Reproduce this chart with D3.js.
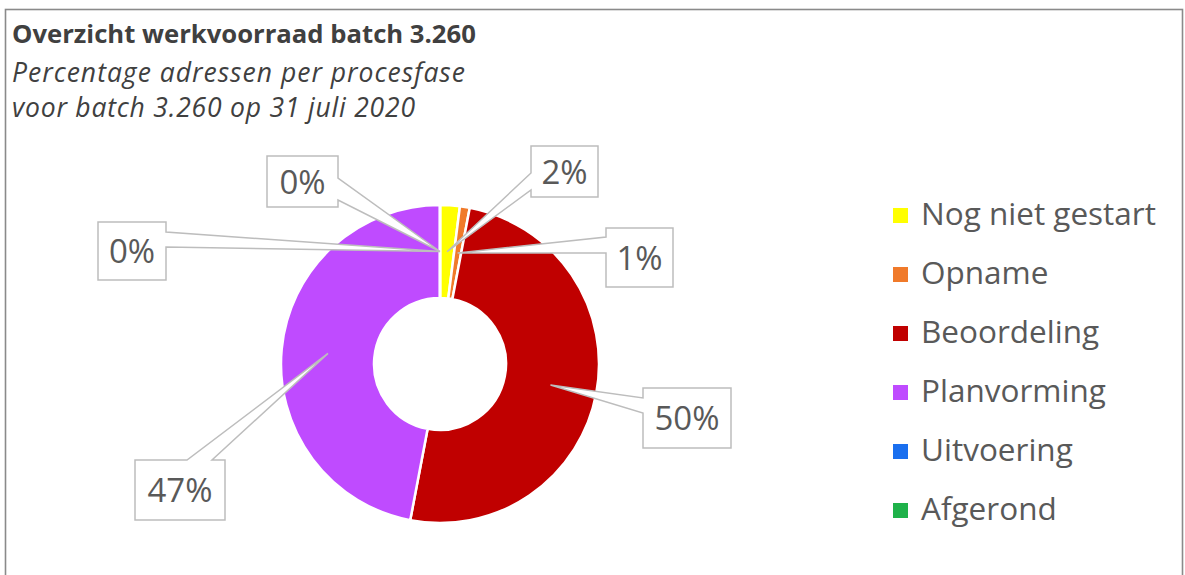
<!DOCTYPE html>
<html>
<head>
<meta charset="utf-8">
<script src="https://cdn.jsdelivr.net/npm/d3@7"></script>
<style>
  html, body { margin: 0; padding: 0; background: #ffffff; }
  svg { display: block; }
</style>
</head>
<body>
<svg id="chart" width="1185" height="575"></svg>
<script>
// ---- data ----
const categories = ["Nog niet gestart", "Opname", "Beoordeling", "Planvorming", "Uitvoering", "Afgerond"];
const values = [2, 1, 50, 47, 0, 0];
const labels = ["2%", "1%", "50%", "47%", "0%", "0%"];
const colors = ["#FFFF00", "#F07A2A", "#C00000", "#BF4BFF", "#1A6FEF", "#1FB24A"];
const titleText = "Overzicht werkvoorraad batch 3.260";
const subtitleLines = ["Percentage adressen per procesfase", "voor batch 3.260 op 31 juli 2020"];

// ---- layout (not data) ----
const W = 1185, H = 575;
const cx = 440, cy = 364, rOuter = 159, rInner = 66;
// callout boxes: x, y, w, h, edge of wedge, base positions along that edge
const callouts = [
  { x: 531, y: 146, w: 67, h: 51, edge: "left",  b: [173, 190] },
  { x: 606, y: 228, w: 67, h: 59, edge: "left",  b: [237, 253] },
  { x: 643, y: 388, w: 88, h: 60, edge: "left",  b: [398, 413] },
  { x: 135, y: 460, w: 90, h: 60, edge: "top",   b: [187, 212] },
  { x: 98,  y: 222, w: 68, h: 58, edge: "right", b: [232, 247] },
  { x: 267, y: 156, w: 71, h: 51, edge: "right", b: [178, 200] }
];

const svg = d3.select("#chart");
const textColor = "#595959";
const font = "'Open Sans', 'Noto Sans', sans-serif";

// frame
svg.append("rect")
  .attr("x", 5.5).attr("y", 9.5).attr("width", 1177).attr("height", 600)
  .attr("fill", "#ffffff").attr("stroke", "#8a8a8a").attr("stroke-width", 1.6);

// fit a text element's font size to a target width
function fitWidth(sel, target) {
  const node = sel.node();
  const fs = +sel.attr("font-size");
  const w = node.getComputedTextLength();
  if (w > 0) sel.attr("font-size", (fs * target / w).toFixed(2));
}

// title
const title = svg.append("text")
  .attr("x", 12).attr("y", 43)
  .attr("font-family", font).attr("font-weight", 700).attr("font-size", 24)
  .attr("fill", "#404040")
  .text(titleText);
fitWidth(title, 464);

const subWidths = [453, 403];
subtitleLines.forEach((line, i) => {
  svg.append("text")
    .attr("x", 12).attr("y", 82 + i * 35)
    .attr("font-family", font).attr("font-style", "italic").attr("font-size", 26.5)
    .attr("fill", "#404040")
    .attr("textLength", subWidths[i]).attr("lengthAdjust", "spacing")
    .text(line);
});

// donut
const pie = d3.pie().sort(null).value(d => d)(values);
const arc = d3.arc().innerRadius(rInner).outerRadius(rOuter);
const g = svg.append("g").attr("transform", `translate(${cx},${cy})`);
g.selectAll("path.slice").data(pie).join("path")
  .attr("class", "slice")
  .attr("d", arc)
  .attr("fill", (d, i) => colors[i])
  .attr("stroke", "#ffffff").attr("stroke-width", 2.5).attr("stroke-linejoin", "round");

// callouts
function calloutPath(c, tip) {
  const x0 = c.x, y0 = c.y, x1 = c.x + c.w, y1 = c.y + c.h;
  let pts;
  if (c.edge === "right") {
    pts = [[x0, y0], [x1, y0], [x1, c.b[0]], tip, [x1, c.b[1]], [x1, y1], [x0, y1]];
  } else if (c.edge === "left") {
    pts = [[x0, y0], [x1, y0], [x1, y1], [x0, y1], [x0, c.b[1]], tip, [x0, c.b[0]]];
  } else if (c.edge === "top") {
    pts = [[x0, y0], [c.b[0], y0], tip, [c.b[1], y0], [x1, y0], [x1, y1], [x0, y1]];
  } else {
    pts = [[x0, y0], [x1, y0], [x1, y1], [c.b[1], y1], tip, [c.b[0], y1], [x0, y1]];
  }
  return "M" + pts.map(p => p.join(",")).join("L") + "Z";
}

const cg = svg.append("g");
pie.forEach((d, i) => {
  const c = callouts[i];
  const cen = arc.centroid(d);
  const tip = [cx + cen[0], cy + cen[1]];
  cg.append("path")
    .attr("d", calloutPath(c, tip))
    .attr("fill", "#ffffff").attr("stroke", "#bdbdbd").attr("stroke-width", 1.5)
    .attr("stroke-linejoin", "miter");
  cg.append("text")
    .attr("x", c.x + c.w / 2).attr("y", c.y + c.h / 2 + 12)
    .attr("text-anchor", "middle")
    .attr("font-family", font).attr("font-size", 33)
    .attr("fill", textColor)
    .text(labels[i]);
});

// legend
const lg = svg.append("g");
categories.forEach((name, i) => {
  const by = 225 + i * 59;
  lg.append("rect")
    .attr("x", 893).attr("y", by - 17).attr("width", 15).attr("height", 15)
    .attr("fill", colors[i]);
  lg.append("text")
    .attr("x", 921).attr("y", by)
    .attr("font-family", font).attr("font-size", 31.5)
    .attr("fill", textColor)
    .text(name);
});
</script>
</body>
</html>
